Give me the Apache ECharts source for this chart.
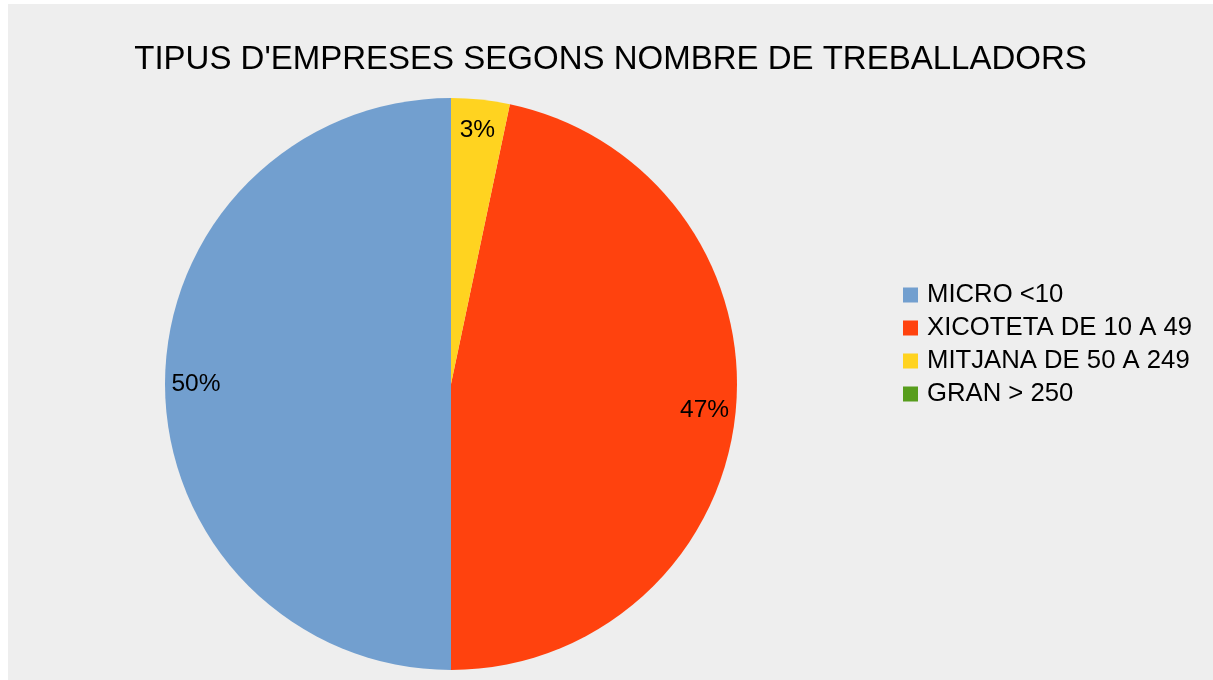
<!DOCTYPE html>
<html>
<head>
<meta charset="utf-8">
<script src="https://cdn.jsdelivr.net/npm/echarts@6/dist/echarts.min.js"></script>
<style>
    html, body {
        margin: 0;
        padding: 0;
        background: #ffffff;
    }
    #chart {
        position: absolute;
        left: 8px;
        top: 4px;
        width: 1205px;
        height: 676px;
    }
</style>
</head>
<body>
<div id="chart"></div>
<script>
// dades llegides del gràfic
const categories = ['MICRO <10', 'XICOTETA DE 10 A 49', 'MITJANA DE 50 A 249', 'GRAN > 250'];
const values = [50, 46.7, 3.3, 0];
const colors = ['#729fcf', '#ff420e', '#ffd320', '#579d1c'];

const pieData = categories.map((name, i) => ({ name: name, value: values[i] }));

let mychart = echarts.init(document.getElementById('chart'));
let option = {
    backgroundColor: '#eeeeee',
    color: colors,
    animation: false,
    textStyle: {
        fontFamily: 'Liberation Sans'
    },
    title: {
        text: "TIPUS D'EMPRESES SEGONS NOMBRE DE TREBALLADORS",
        left: 'center',
        top: 39,
        padding: 0,
        textStyle: {
            color: '#000000',
            fontWeight: 'normal',
            fontSize: 33,
            fontFamily: 'Liberation Sans'
        }
    },
    legend: {
        orient: 'vertical',
        left: 895,
        top: 278,
        padding: 0,
        itemGap: 7,
        itemWidth: 15,
        itemHeight: 15,
        icon: 'rect',
        data: categories,
        textStyle: {
            color: '#000000',
            fontSize: 25.7,
            lineHeight: 26,
            padding: [0, 0, 0, 4],
            fontFamily: 'Liberation Sans'
        }
    },
    series: [
        {
            type: 'pie',
            center: [443, 380],
            radius: [0, 286],
            startAngle: 90,
            clockwise: false,
            silent: true,
            label: { show: false },
            labelLine: { show: false },
            itemStyle: { borderWidth: 0 },
            data: pieData
        },
        {
            // anell transparent només per col·locar les etiquetes
            type: 'pie',
            center: [443, 380],
            radius: [218, 286],
            startAngle: 90,
            clockwise: false,
            silent: true,
            minShowLabelAngle: 0.5,
            itemStyle: { color: 'rgba(0,0,0,0)', borderWidth: 0 },
            label: {
                show: true,
                position: 'inside',
                color: '#000000',
                fontSize: 24.5,
                fontFamily: 'Liberation Sans',
                formatter: function (p) {
                    return Math.round(p.percent) + '%';
                }
            },
            labelLine: { show: false },
            data: pieData
        }
    ]
};
mychart.setOption(option);
</script>
</body>
</html>
